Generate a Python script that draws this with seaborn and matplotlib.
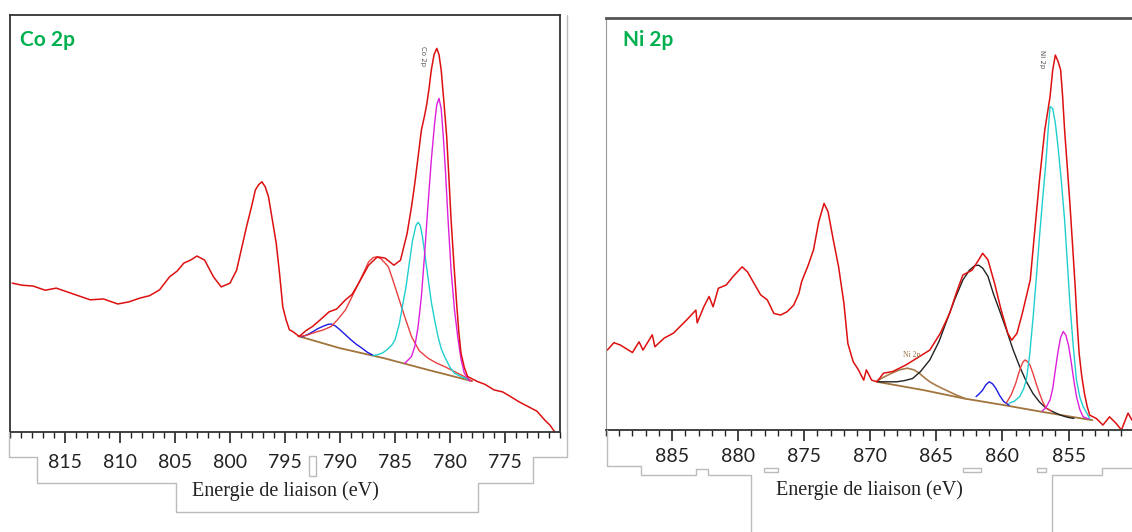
import matplotlib
matplotlib.use("Agg")
import matplotlib.pyplot as plt
from matplotlib.lines import Line2D
from matplotlib.patches import Rectangle
from matplotlib.ticker import MultipleLocator, FixedFormatter, FixedLocator
import seaborn as sns

# ---- Co 2p (left panel) ----
co_energy = [819.8, 818.9, 817.9, 816.8, 815.8, 814.8, 813.7, 812.7, 811.5, 810.2, 809.2, 808.2, 807.3,
             806.4, 805.5, 804.8, 804.2, 803.6, 803.0, 802.3, 801.5, 800.8, 800.0, 799.4, 798.5, 798.0,
             797.7, 797.4, 797.1, 796.8, 796.5, 795.8, 795.5, 795.2, 794.9, 794.6, 794.3, 793.7, 793.1,
             792.5, 791.8, 791.0, 790.3, 789.5, 788.9, 788.3, 787.4, 786.6, 785.9, 785.1, 784.5, 783.9,
             783.5, 783.2, 782.9, 782.6, 782.3, 782.1, 781.9, 781.7, 781.45, 781.2, 781.0, 780.8,
             780.55, 780.3, 780.1, 779.9, 779.65, 779.4, 779.2, 779.0, 778.7, 778.4, 777.5, 776.8,
             776.0, 775.2, 774.5, 773.7, 772.9, 772.1, 771.4, 770.9, 770.5]
co_counts = [35.7, 35.2, 35.0, 34.0, 34.5, 33.6, 32.6, 31.7, 31.9, 30.7, 31.2, 32.1, 32.7,
             34.1, 37.2, 38.6, 40.5, 41.2, 42.2, 41.2, 37.2, 34.8, 35.7, 38.8, 49.2, 54.5,
             58.0, 59.3, 60.0, 58.8, 56.4, 45.3, 38.1, 30.0, 26.9, 24.5, 24.1, 22.9, 24.3,
             25.3, 26.9, 28.8, 29.5, 31.7, 33.0, 35.7, 40.0, 42.0, 41.7, 40.0, 41.2, 47.6,
             54.0, 59.6, 66.0, 72.4, 76.0, 78.8, 82.5, 86.8, 90.5, 92.0, 90.5, 86.8,
             79.0, 70.8, 61.0, 50.8, 40.5, 30.9, 24.0, 18.9, 15.5, 13.3, 12.1, 11.4,
             10.1, 9.6, 8.5, 7.2, 6.1, 5.0, 2.9, 1.6, 0.1]

co_bg_energy = [793.8, 790.0, 786.0, 782.0, 778.0]
co_bg = [23.0, 20.1, 17.7, 14.9, 12.2]

co_blue_energy = [793.5, 793.0, 792.5, 792.0, 791.5, 791.1, 790.8, 790.4, 790.0, 789.5, 789.0,
                  788.5, 788.0, 787.5, 787.0]
co_blue = [22.8, 23.3, 24.0, 24.8, 25.4, 25.8, 25.9, 25.4, 24.5, 23.3, 22.1, 21.0, 20.1, 19.1, 18.4]

co_sat_energy = [793.7, 793.0, 792.5, 791.5, 790.8, 790.2, 789.5, 788.9, 788.3, 787.8, 787.4,
                 787.0, 786.7, 786.3, 785.9, 785.6, 785.2, 784.7, 784.1, 783.5, 782.8, 782.0,
                 781.2, 780.5, 779.6, 778.7, 778.0]
co_sat = [22.9, 23.2, 23.7, 24.5, 25.3, 27.0, 29.3, 32.5, 35.7, 38.5, 40.8,
          41.8, 42.0, 41.6, 40.5, 39.6, 36.5, 32.4, 27.5, 22.9, 19.5, 17.7,
          16.5, 15.7, 14.5, 13.3, 12.2]

co_cyan_energy = [787.0, 786.5, 786.1, 785.7, 785.3, 785.0, 784.6, 784.3, 784.0, 783.7, 783.4,
                  783.1, 782.9, 782.7, 782.5, 782.3, 782.0, 781.7, 781.4, 781.1, 780.8, 780.5,
                  780.0, 779.6, 779.0, 778.4]
co_cyan = [18.3, 18.6, 19.0, 19.8, 20.8, 22.1, 26.0, 30.5, 34.8, 40.5, 46.0,
           49.5, 50.3, 49.5, 46.8, 42.9, 37.0, 31.2, 26.9, 23.0, 20.0, 18.1,
           15.5, 14.1, 13.3, 12.7]

co_mag_energy = [784.1, 783.5, 783.2, 782.9, 782.6, 782.3, 782.0, 781.7, 781.4, 781.2, 781.0,
                 780.8, 780.6, 780.4, 780.2, 779.9, 779.6, 779.3, 779.0, 778.7, 778.2]
co_mag = [16.5, 18.1, 20.5, 25.3, 32.5, 42.9, 54.5, 65.2, 74.0, 78.5, 80.0,
          77.5, 70.5, 62.0, 52.0, 38.8, 29.5, 22.9, 17.5, 14.1, 12.2]

# ---- Ni 2p (right panel) ----
ni_energy = [889.9, 889.4, 888.9, 888.0, 887.5, 887.2, 886.5, 886.3, 885.6, 884.9, 884.4, 883.9,
             883.2, 883.1, 882.6, 882.2, 881.9, 881.5, 880.9, 880.4, 879.7, 879.3, 878.8, 878.3,
             877.8, 877.3, 876.8, 876.3, 875.8, 875.4, 875.2, 874.7, 874.3, 873.9, 873.5, 873.2,
             872.8, 872.4, 872.0, 871.7, 871.3, 870.9, 870.5, 870.3, 869.9, 869.5, 869.0, 868.3,
             867.3, 866.3, 865.5, 864.7, 864.0, 863.5, 863.0, 862.3, 861.8, 861.5, 861.1, 860.6,
             860.1, 859.6, 859.3, 858.9, 858.5, 857.9, 857.6, 857.2, 856.8, 856.4, 856.2, 856.0,
             855.8, 855.6, 855.45, 855.3, 855.1, 854.9, 854.7, 854.5, 854.35, 854.2, 854.0, 853.8,
             853.6, 853.4, 852.9, 852.4, 851.9, 851.4, 851.0, 850.5, 850.2]
ni_counts = [19.4, 21.2, 20.6, 18.8, 21.4, 19.4, 23.1, 20.2, 22.3, 23.5, 25.1, 26.7,
             29.1, 26.0, 29.9, 32.4, 29.9, 34.4, 35.2, 37.2, 39.6, 38.4, 35.6, 32.8,
             31.6, 28.3, 27.9, 28.7, 30.3, 33.2, 36.0, 40.0, 43.7, 50.6, 55.0, 53.0,
             46.1, 39.6, 30.8, 21.0, 16.6, 14.6, 12.1, 14.6, 12.1, 11.7, 13.8, 14.2,
             15.8, 17.8, 19.4, 23.5, 28.3, 33.2, 37.6, 38.8, 41.3, 42.9, 41.3, 35.6,
             29.1, 23.5, 21.8, 23.5, 28.3, 36.4, 46.9, 60.7, 72.8, 80.9, 87.4, 91.0,
             89.5, 87.4, 81.0, 72.8, 64.0, 55.0, 45.0, 34.8, 26.0, 18.6, 13.0, 8.9,
             5.8, 3.6, 2.8, 1.2, 3.2, 1.6, 0.0, 4.1, 2.4]

ni_bg_energy = [869.5, 866.0, 863.0, 860.0, 857.0, 854.0, 853.2]
ni_bg = [11.7, 9.7, 7.7, 6.1, 4.4, 2.8, 2.4]

ni_sat_energy = [869.5, 869.0, 868.5, 867.8, 867.2, 866.7, 866.3, 865.9, 865.5, 865.0, 864.5,
                 863.5, 862.8]
ni_sat = [11.9, 12.8, 13.6, 14.6, 15.0, 14.6, 13.8, 12.7, 11.7, 10.8, 10.0, 8.5, 7.6]

ni_black_energy = [869.4, 868.0, 867.4, 866.8, 866.2, 865.5, 864.8, 864.2, 863.6, 863.0, 862.5,
                   862.1, 861.8, 861.5, 861.1, 860.7, 860.2, 859.7, 859.2, 858.7, 858.2, 857.7,
                   857.2, 856.7, 856.1, 855.6, 855.1, 854.6]
ni_black = [11.7, 11.7, 12.0, 12.5, 14.2, 17.0, 21.5, 26.7, 31.8, 36.4, 38.8,
            39.9, 40.0, 39.3, 37.3, 33.2, 28.8, 24.3, 19.5, 15.4, 11.8, 8.9,
            6.8, 5.3, 4.3, 3.6, 3.1, 2.8]

ni_blue_energy = [862.0, 861.75, 861.5, 861.25, 861.0, 860.75, 860.5, 860.2, 859.9, 859.5]
ni_blue = [8.1, 8.8, 9.7, 11.0, 11.7, 11.2, 10.1, 8.3, 6.9, 6.0]

ni_red_energy = [859.7, 859.35, 859.0, 858.8, 858.6, 858.45, 858.3, 858.1, 857.9, 857.7, 857.45,
                 857.2, 856.95, 856.7, 856.3]
ni_red = [6.6, 8.5, 11.3, 13.5, 15.4, 16.5, 17.0, 16.6, 15.6, 13.8, 11.2, 8.9, 6.8, 5.3, 4.6]

ni_cyan_energy = [859.5, 859.1, 858.7, 858.4, 858.2, 857.95, 857.7, 857.45, 857.2, 856.95, 856.7,
                  856.55, 856.4, 856.2, 856.0, 855.8, 855.55, 855.3, 855.1, 854.9, 854.65, 854.4,
                  854.15, 853.9, 853.4]
ni_cyan = [6.5, 7.0, 8.1, 10.0, 12.1, 18.0, 26.7, 36.5, 46.9, 56.5, 65.5,
           72.5, 78.5, 78.0, 74.5, 68.8, 60.5, 51.0, 41.0, 30.8, 20.5, 12.1,
           8.0, 5.7, 2.8]

ni_mag_energy = [857.0, 856.7, 856.4, 856.2, 856.0, 855.8, 855.6, 855.4, 855.2, 855.0, 854.8,
                 854.6, 854.4, 854.15, 853.9, 853.5]
ni_mag = [4.6, 5.5, 7.3, 10.0, 14.6, 19.0, 22.5, 23.9, 23.0, 20.5, 16.5,
          12.0, 8.1, 5.0, 3.2, 2.7]

co_ticks = [815, 810, 805, 800, 795, 790, 785, 780, 775]
ni_ticks = [885, 880, 875, 870, 865, 860, 855]

sns.set_style("white")
plt.rcParams['font.family'] = ['Lato', 'DejaVu Sans']

W, H = 1132, 532
fig = plt.figure(figsize=(W / 100, H / 100), dpi=100)


def px_axes(x0, y0, x1, y1):
    return fig.add_axes([x0 / W, 1 - y1 / H, (x1 - x0) / W, (y1 - y0) / H])


def line(ax, x, y, color, lw=1.0):
    sns.lineplot(x=x, y=y, ax=ax, color=color, linewidth=lw, estimator=None, sort=False)


def style_axes(ax, xlim, ticks, pad):
    ax.set_xlim(*xlim)
    ax.set_ylim(0, 100)
    ax.set_yticks([])
    ax.set_ylabel("")
    ax.xaxis.set_major_locator(FixedLocator(ticks))
    ax.xaxis.set_major_formatter(FixedFormatter([str(t) for t in ticks]))
    ax.xaxis.set_minor_locator(MultipleLocator(1))
    ax.tick_params(axis='x', which='both', bottom=True, top=False)
    ax.tick_params(axis='x', which='major', direction='out', length=8, width=1.2,
                   labelsize=14, pad=pad, colors='#222222')
    ax.tick_params(axis='x', which='minor', direction='out', length=4, width=1.0, colors='#222222')
    ax.set_xlabel("Energie de liaison (eV)", family='Liberation Serif', fontsize=14.5,
                  color='#222222')


# left panel
ax1 = px_axes(10, 15, 560, 432)
line(ax1, co_bg_energy, co_bg, '#a0743c', 1.3)
line(ax1, co_blue_energy, co_blue, '#1a1ae0')
line(ax1, co_sat_energy, co_sat, '#e84040')
line(ax1, co_cyan_energy, co_cyan, '#1fcfcf')
line(ax1, co_mag_energy, co_mag, '#dc1fdc')
line(ax1, co_energy, co_counts, '#dd1010', 1.1)
style_axes(ax1, (820, 770), co_ticks, 8)
ax1.xaxis.labelpad = 7
for s in ax1.spines.values():
    s.set_color('#333333')
    s.set_linewidth(1.3)
ax1.text(0.018, 0.965, "Co 2p", transform=ax1.transAxes, ha='left', va='top',
         fontsize=15, fontweight='bold', color='#00b050')
ax1.text(782.5, 90.2, "Co 2p", rotation=270, ha='center', va='center', fontsize=5,
         color='#555555', family='DejaVu Sans')

# right panel
ax2 = px_axes(606, 18, 1132, 430)
line(ax2, ni_bg_energy, ni_bg, '#a0743c', 1.3)
line(ax2, ni_sat_energy, ni_sat, '#a87a4a', 1.2)
line(ax2, ni_black_energy, ni_black, '#222222')
line(ax2, ni_blue_energy, ni_blue, '#1a1ae0')
line(ax2, ni_red_energy, ni_red, '#e84040')
line(ax2, ni_cyan_energy, ni_cyan, '#1fcfcf')
line(ax2, ni_mag_energy, ni_mag, '#dc1fdc')
line(ax2, ni_energy, ni_counts, '#dd1010', 1.1)
style_axes(ax2, (890, 850.2), ni_ticks, 5)
ax2.xaxis.labelpad = 11
ax2.spines['right'].set_visible(False)
ax2.spines['top'].set_color('#555555')
ax2.spines['top'].set_linewidth(2)
ax2.spines['left'].set_color('#999999')
ax2.spines['bottom'].set_color('#333333')
ax2.spines['bottom'].set_linewidth(1.3)
ax2.text(0.032, 0.972, "Ni 2p", transform=ax2.transAxes, ha='left', va='top',
         fontsize=15, fontweight='bold', color='#00b050')
ax2.text(857.0, 90.0, "Ni 2p", rotation=270, ha='center', va='center', fontsize=5,
         color='#555555', family='DejaVu Sans')
ax2.text(866.9, 18.2, "Ni 2p", ha='center', va='center', fontsize=5.5,
         color='#a07040', family='Liberation Serif')

# grey outlines of the pasted label strips
def outline(pts):
    xs = [p[0] / W for p in pts]
    ys = [1 - p[1] / H for p in pts]
    fig.add_artist(Line2D(xs, ys, transform=fig.transFigure, color='#bbbbbb', lw=1))


outline([(9, 432), (9, 457), (37, 457), (37, 483), (176, 483), (176, 512), (478, 512),
         (478, 483), (533, 483), (533, 457), (567, 457), (567, 15)])
outline([(607, 430), (607, 466), (641, 466), (641, 475), (696, 475), (696, 469), (708, 469),
         (708, 475), (751, 475), (751, 532)])
outline([(1052, 532), (1052, 475), (1102, 475), (1102, 468), (1132, 468)])
for (x0, y0, w, h) in [(309, 456, 7, 20), (764, 468, 14, 4), (963, 468, 18, 4), (1037, 468, 9, 4)]:
    fig.add_artist(Rectangle((x0 / W, 1 - (y0 + h) / H), w / W, h / H, transform=fig.transFigure,
                             fill=False, edgecolor='#bbbbbb', lw=1))

fig.savefig("out.png", dpi=100)
